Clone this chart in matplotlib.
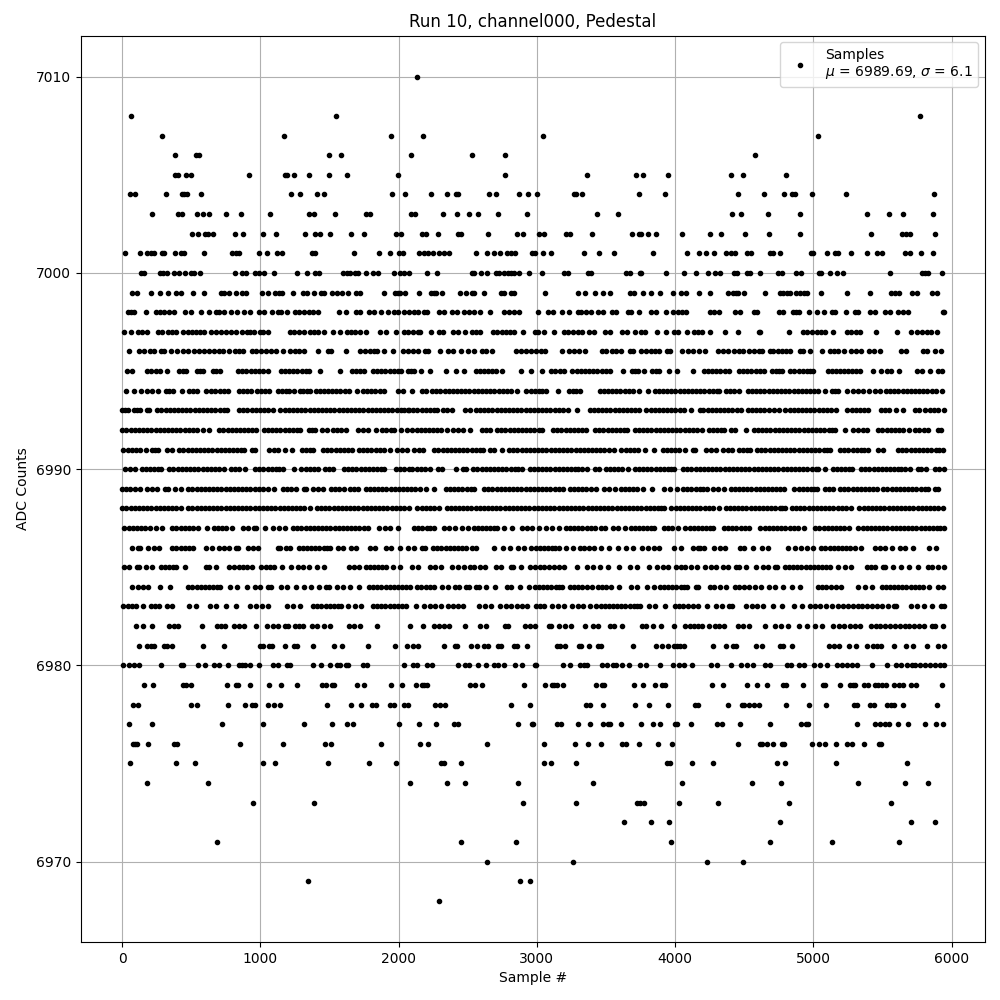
import matplotlib
matplotlib.use('Agg')
import matplotlib.pyplot as plt

# sample numbers, one list per ADC level
s7010 = [2132]
s7008 = [65, 1545, 5770]
s7007 = [289, 1170, 1942, 2176, 3043, 5036]
s7006 = [383, 532, 555, 1495, 1581, 2089, 2530, 2769, 4575]
s7005 = [380, 404, 460, 498, 917, 1180, 1195, 1242, 1350, 1495, 1625, 1993, 2769, 3361, 3716, 3766, 3947, 4402, 4489, 4806]
s7004 = [55, 94, 318, 431, 448, 469, 570, 1220, 1285, 1408, 1459, 1950, 2044, 2234, 2349, 2412, 2429, 2653, 2704, 2870, 2935, 3000, 3267, 3284, 3330, 3737, 3925, 4453, 4647, 4791, 4846, 4866, 4993, 5238, 5871]
s7003 = [217, 404, 433, 542, 587, 628, 751, 859, 1069, 1350, 1389, 1538, 1762, 1793, 2089, 2118, 2320, 2422, 2508, 2573, 2718, 2928, 3434, 3586, 4410, 4474, 4669, 4906, 5389, 5547, 5648, 5864]
s7002 = [505, 549, 599, 621, 657, 818, 874, 1018, 1112, 1321, 1394, 1430, 1502, 1656, 1747, 1983, 2015, 2169, 2197, 2284, 2429, 2451, 2646, 2860, 2899, 3014, 3053, 3210, 3239, 3398, 3687, 3737, 3757, 3803, 3860, 4048, 4251, 4330, 4503, 4683, 4906, 5418, 5641, 5670, 5701, 5878]
s7001 = [22, 130, 180, 209, 231, 289, 303, 383, 426, 448, 592, 794, 823, 845, 989, 1047, 1119, 1155, 1372, 1394, 1675, 1856, 1935, 2000, 2029, 2147, 2183, 2212, 2248, 2291, 2327, 2364, 2559, 2639, 2689, 2732, 2783, 2812, 2841, 2964, 2986, 3043, 3101, 3340, 3448, 3557, 3839, 4085, 4171, 4222, 4280, 4366, 4402, 4431, 4518, 4546, 4690, 4705, 4762, 4986, 5000, 5101, 5158, 5180, 5274, 5386, 5461, 5497, 5662, 5701, 5778, 5864]
s7000 = [140, 159, 274, 296, 325, 375, 409, 455, 498, 520, 563, 816, 866, 895, 960, 989, 1025, 1098, 1264, 1336, 1394, 1423, 1596, 1625, 1651, 1682, 1704, 1762, 1812, 1849, 1964, 2007, 2036, 2075, 2205, 2277, 2530, 2545, 2595, 2639, 2704, 2725, 2761, 2790, 2812, 2834, 2870, 2942, 3036, 3195, 3224, 3369, 3390, 3643, 3672, 3745, 3757, 3933, 4063, 4150, 4237, 4287, 4323, 4424, 4446, 4518, 4539, 4611, 4748, 4777, 4878, 4914, 5043, 5058, 5122, 5173, 5216, 5554, 5785, 5806, 5828, 5929]
s6999 = [72, 108, 209, 274, 332, 390, 426, 513, 592, 715, 737, 773, 823, 866, 895, 1011, 1054, 1105, 1134, 1155, 1235, 1307, 1338, 1386, 1437, 1459, 1516, 1552, 1589, 1632, 1690, 1719, 1892, 1971, 1993, 2007, 2044, 2147, 2234, 2255, 2270, 2313, 2443, 2487, 2530, 2545, 2617, 2740, 2761, 2812, 2834, 3058, 3296, 3347, 3419, 3477, 3528, 3672, 3701, 3766, 3824, 3889, 3983, 4041, 4077, 4171, 4251, 4381, 4417, 4438, 4453, 4496, 4654, 4762, 4784, 4813, 4834, 4878, 4906, 4935, 4957, 5058, 5245, 5410, 5562, 5590, 5619, 5713, 5749, 5857, 5893]
s6998 = [43, 65, 87, 173, 246, 274, 303, 339, 375, 455, 496, 570, 628, 679, 700, 737, 787, 830, 881, 924, 989, 1025, 1083, 1126, 1148, 1191, 1249, 1278, 1314, 1350, 1379, 1415, 1567, 1617, 1690, 1719, 1784, 1820, 1870, 1921, 1964, 1993, 2036, 2075, 2111, 2140, 2183, 2205, 2291, 2327, 2385, 2422, 2472, 2508, 2545, 2588, 2660, 2761, 2798, 2834, 2870, 3007, 3080, 3116, 3181, 3231, 3296, 3318, 3354, 3390, 3441, 3477, 3542, 3571, 3658, 3680, 3737, 3824, 3860, 3933, 3983, 4019, 4048, 4077, 4251, 4280, 4316, 4431, 4467, 4568, 4590, 4755, 4784, 4856, 4878, 4899, 4971, 5029, 5079, 5137, 5158, 5238, 5302, 5324, 5410, 5446, 5518, 5554, 5612, 5648, 5684, 5935, 5945]
s6997 = [14, 65, 115, 144, 180, 260, 289, 332, 361, 390, 440, 477, 505, 534, 563, 592, 643, 679, 715, 751, 787, 823, 866, 903, 924, 953, 996, 1021, 1054, 1213, 1242, 1278, 1314, 1358, 1386, 1415, 1459, 1524, 1574, 1625, 1654, 1682, 1719, 1762, 1863, 1906, 1979, 2036, 2065, 2103, 2140, 2154, 2234, 2291, 2320, 2393, 2429, 2479, 2530, 2559, 2588, 2682, 2711, 2747, 2776, 2805, 2834, 2899, 2986, 3007, 3051, 3123, 3195, 3224, 3260, 3296, 3325, 3376, 3412, 3492, 3528, 3615, 3651, 3709, 3752, 3781, 3868, 3933, 3990, 4019, 4085, 4135, 4164, 4194, 4251, 4359, 4453, 4604, 4618, 4827, 4928, 4957, 4993, 5029, 5058, 5086, 5144, 5245, 5274, 5310, 5338, 5453, 5605, 5706, 5749, 5785, 5821, 5850, 5893]
s6996 = [51, 123, 159, 202, 231, 282, 303, 354, 397, 440, 477, 520, 556, 592, 628, 664, 700, 729, 773, 816, 845, 874, 939, 968, 1004, 1040, 1076, 1112, 1163, 1213, 1249, 1278, 1314, 1415, 1488, 1509, 1622, 1719, 1755, 1793, 1820, 1841, 1892, 1957, 2029, 2065, 2103, 2140, 2190, 2212, 2299, 2357, 2393, 2451, 2501, 2545, 2603, 2631, 2675, 2848, 2884, 2920, 2957, 2993, 3029, 3058, 3181, 3231, 3267, 3304, 3347, 3470, 3499, 3542, 3571, 3607, 3672, 3694, 3752, 3788, 3824, 3853, 3882, 3940, 3962, 4051, 4092, 4128, 4171, 4215, 4309, 4345, 4383, 4424, 4460, 4489, 4532, 4568, 4604, 4626, 4690, 4712, 4748, 4777, 4806, 4834, 4906, 4928, 4978, 5065, 5122, 5151, 5180, 5223, 5274, 5310, 5346, 5403, 5439, 5482, 5634, 5670, 5792, 5821, 5878, 5921]
s6995 = [34, 72, 183, 212, 242, 272, 325, 414, 440, 465, 539, 562, 585, 660, 683, 705, 840, 870, 900, 930, 960, 990, 1020, 1054, 1148, 1178, 1208, 1238, 1268, 1298, 1328, 1355, 1430, 1579, 1663, 1693, 1723, 1752, 1815, 1845, 1875, 1905, 1935, 1965, 1995, 2017, 2070, 2090, 2111, 2164, 2229, 2342, 2414, 2472, 2557, 2587, 2617, 2647, 2677, 2707, 2747, 2884, 2957, 3036, 3106, 3135, 3165, 3200, 3258, 3288, 3318, 3348, 3378, 3408, 3438, 3468, 3498, 3533, 3624, 3692, 3711, 3730, 3776, 3836, 3862, 3887, 3957, 4012, 4128, 4206, 4236, 4266, 4296, 4326, 4360, 4393, 4462, 4492, 4522, 4552, 4582, 4612, 4647, 4702, 4727, 4752, 4777, 4834, 4864, 4894, 4924, 4954, 4977, 5000, 5103, 5133, 5163, 5193, 5223, 5253, 5283, 5310, 5336, 5430, 5487, 5535, 5564, 5619, 5751, 5785, 5845, 5900, 5931]
s6994 = [26, 87, 140, 183, 220, 260, 318, 343, 368, 433, 486, 514, 542, 607, 640, 673, 706, 735, 765, 847, 875, 905, 934, 977, 1005, 1033, 1061, 1129, 1160, 1185, 1211, 1242, 1285, 1310, 1335, 1360, 1401, 1430, 1460, 1490, 1520, 1550, 1580, 1610, 1644, 1697, 1743, 1773, 1803, 1833, 1865, 1897, 1995, 2034, 2099, 2171, 2200, 2243, 2273, 2303, 2333, 2363, 2393, 2423, 2453, 2483, 2513, 2543, 2573, 2603, 2633, 2663, 2693, 2723, 2753, 2783, 2813, 2855, 2925, 2955, 2985, 3015, 3040, 3067, 3154, 3234, 3260, 3287, 3313, 3455, 3485, 3515, 3545, 3575, 3605, 3635, 3665, 3695, 3737, 3803, 3853, 3883, 3913, 3943, 3973, 4003, 4033, 4063, 4093, 4123, 4153, 4183, 4213, 4243, 4273, 4303, 4316, 4371, 4400, 4430, 4460, 4527, 4557, 4587, 4617, 4647, 4677, 4707, 4737, 4767, 4797, 4827, 4857, 4887, 4917, 4947, 4977, 5007, 5036, 5086, 5134, 5157, 5180, 5247, 5290, 5325, 5360, 5406, 5443, 5480, 5526, 5556, 5586, 5616, 5646, 5676, 5706, 5736, 5766, 5796, 5826, 5856, 5886, 5931]
s6993 = [0, 20, 43, 87, 110, 132, 178, 195, 255, 285, 315, 345, 375, 405, 435, 465, 495, 525, 555, 585, 615, 645, 675, 705, 735, 758, 847, 877, 907, 937, 967, 997, 1027, 1057, 1090, 1146, 1176, 1206, 1236, 1266, 1296, 1326, 1356, 1386, 1416, 1446, 1476, 1506, 1536, 1566, 1596, 1626, 1656, 1686, 1716, 1746, 1776, 1806, 1836, 1866, 1896, 1926, 1956, 1986, 2016, 2040, 2065, 2076, 2106, 2136, 2166, 2196, 2226, 2256, 2279, 2323, 2354, 2385, 2484, 2520, 2559, 2589, 2619, 2649, 2679, 2709, 2739, 2769, 2799, 2829, 2859, 2889, 2919, 2949, 2979, 3009, 3039, 3069, 3099, 3129, 3159, 3189, 3229, 3289, 3383, 3413, 3443, 3473, 3503, 3533, 3563, 3593, 3623, 3653, 3683, 3713, 3742, 3793, 3823, 3853, 3883, 3913, 3943, 3973, 4003, 4033, 4068, 4113, 4178, 4205, 4235, 4265, 4295, 4325, 4355, 4385, 4415, 4445, 4477, 4527, 4557, 4587, 4617, 4647, 4676, 4719, 4755, 4798, 4828, 4858, 4888, 4918, 4948, 4978, 5008, 5038, 5068, 5096, 5125, 5163, 5247, 5277, 5307, 5337, 5367, 5396, 5492, 5520, 5545, 5598, 5646, 5737, 5768, 5811, 5841, 5871, 5901, 5943]
s6992 = [2, 32, 62, 92, 122, 152, 182, 212, 242, 272, 302, 332, 362, 392, 422, 452, 482, 512, 542, 585, 628, 703, 733, 763, 793, 823, 853, 883, 913, 943, 970, 1025, 1055, 1085, 1115, 1145, 1175, 1205, 1235, 1265, 1285, 1353, 1375, 1396, 1449, 1480, 1526, 1556, 1586, 1617, 1707, 1741, 1776, 1834, 1882, 1912, 1942, 1969, 2015, 2063, 2100, 2130, 2160, 2190, 2220, 2250, 2280, 2310, 2352, 2395, 2430, 2465, 2516, 2600, 2632, 2663, 2713, 2743, 2773, 2803, 2833, 2863, 2893, 2923, 2953, 2983, 3013, 3036, 3118, 3148, 3178, 3208, 3238, 3268, 3298, 3328, 3357, 3422, 3452, 3482, 3512, 3542, 3572, 3602, 3628, 3653, 3709, 3739, 3769, 3799, 3829, 3859, 3889, 3919, 3949, 3979, 4009, 4039, 4069, 4099, 4129, 4159, 4196, 4246, 4275, 4300, 4330, 4357, 4402, 4431, 4515, 4570, 4600, 4630, 4660, 4690, 4720, 4750, 4780, 4810, 4840, 4870, 4900, 4930, 4960, 4990, 5020, 5050, 5080, 5110, 5135, 5156, 5226, 5290, 5323, 5356, 5389, 5470, 5500, 5530, 5560, 5590, 5620, 5650, 5689, 5734, 5767, 5800, 5833, 5902, 5924]
s6991 = [10, 40, 70, 100, 130, 171, 219, 240, 260, 323, 361, 414, 444, 474, 504, 534, 564, 594, 624, 654, 684, 714, 744, 774, 804, 834, 858, 881, 943, 958, 1064, 1098, 1131, 1182, 1228, 1302, 1330, 1357, 1384, 1454, 1484, 1514, 1544, 1574, 1604, 1634, 1661, 1714, 1744, 1774, 1804, 1834, 1864, 1894, 1935, 1991, 2025, 2058, 2111, 2145, 2176, 2258, 2288, 2318, 2348, 2378, 2408, 2438, 2468, 2498, 2528, 2558, 2588, 2610, 2665, 2694, 2749, 2800, 2830, 2860, 2890, 2920, 2950, 2980, 3010, 3040, 3070, 3100, 3130, 3160, 3190, 3220, 3250, 3280, 3310, 3340, 3370, 3400, 3430, 3460, 3484, 3521, 3557, 3612, 3642, 3672, 3702, 3730, 3781, 3851, 3913, 3943, 3973, 4003, 4031, 4075, 4130, 4147, 4222, 4260, 4297, 4350, 4380, 4412, 4462, 4490, 4517, 4544, 4594, 4624, 4654, 4684, 4714, 4744, 4774, 4804, 4834, 4864, 4894, 4924, 4954, 4984, 5014, 5044, 5074, 5098, 5120, 5194, 5224, 5254, 5284, 5314, 5344, 5370, 5396, 5470, 5504, 5614, 5644, 5674, 5704, 5734, 5764, 5794, 5824, 5854, 5884, 5910, 5936]
s6990 = [24, 57, 91, 142, 172, 202, 232, 262, 284, 342, 372, 402, 432, 462, 492, 522, 552, 582, 612, 642, 672, 702, 734, 785, 815, 845, 886, 963, 993, 1023, 1053, 1083, 1113, 1138, 1163, 1242, 1297, 1327, 1357, 1387, 1420, 1466, 1497, 1528, 1605, 1635, 1665, 1695, 1725, 1755, 1785, 1815, 1845, 1870, 1897, 1983, 2013, 2043, 2073, 2100, 2130, 2160, 2190, 2224, 2287, 2316, 2412, 2465, 2489, 2540, 2570, 2600, 2630, 2660, 2690, 2720, 2750, 2780, 2810, 2840, 2866, 2892, 2949, 2979, 3009, 3039, 3069, 3099, 3129, 3159, 3189, 3219, 3249, 3279, 3300, 3325, 3366, 3419, 3453, 3499, 3529, 3559, 3589, 3619, 3658, 3709, 3739, 3769, 3799, 3829, 3859, 3889, 3919, 3949, 3970, 3991, 4058, 4088, 4118, 4148, 4178, 4208, 4238, 4268, 4298, 4328, 4358, 4388, 4418, 4448, 4478, 4508, 4538, 4568, 4598, 4628, 4658, 4688, 4718, 4748, 4778, 4808, 4838, 4868, 4898, 4928, 4958, 4988, 5018, 5036, 5086, 5142, 5172, 5202, 5232, 5256, 5281, 5346, 5376, 5406, 5436, 5466, 5496, 5526, 5556, 5586, 5616, 5638, 5660, 5703, 5754, 5780, 5818, 5878, 5910, 5945]
s6989 = [2, 30, 60, 90, 132, 178, 215, 253, 310, 332, 383, 428, 479, 509, 539, 569, 599, 629, 659, 689, 719, 749, 779, 809, 839, 869, 899, 929, 959, 989, 1019, 1054, 1098, 1165, 1195, 1225, 1259, 1314, 1331, 1382, 1417, 1451, 1514, 1540, 1570, 1603, 1651, 1680, 1709, 1762, 1792, 1822, 1852, 1882, 1912, 1942, 1972, 2002, 2032, 2062, 2092, 2122, 2152, 2202, 2260, 2342, 2372, 2402, 2432, 2462, 2492, 2522, 2549, 2619, 2649, 2679, 2709, 2739, 2769, 2799, 2829, 2859, 2889, 2919, 2949, 2979, 3009, 3039, 3069, 3099, 3129, 3159, 3188, 3239, 3269, 3299, 3329, 3359, 3389, 3429, 3487, 3525, 3566, 3612, 3640, 3668, 3697, 3725, 3769, 3831, 3918, 3962, 4012, 4058, 4088, 4118, 4148, 4178, 4205, 4232, 4275, 4314, 4352, 4402, 4432, 4462, 4492, 4522, 4552, 4582, 4612, 4642, 4672, 4702, 4732, 4762, 4791, 4863, 4893, 4923, 4953, 4983, 5006, 5029, 5082, 5113, 5144, 5194, 5224, 5254, 5284, 5314, 5344, 5374, 5404, 5434, 5461, 5506, 5536, 5566, 5596, 5626, 5656, 5686, 5716, 5746, 5776, 5806, 5828, 5878, 5900]
s6988 = [2, 32, 62, 92, 122, 152, 182, 212, 242, 272, 302, 332, 362, 392, 428, 479, 509, 539, 569, 599, 629, 659, 689, 719, 749, 779, 809, 839, 869, 899, 929, 959, 989, 1019, 1049, 1079, 1109, 1139, 1169, 1199, 1229, 1259, 1289, 1319, 1358, 1410, 1440, 1470, 1500, 1530, 1560, 1590, 1620, 1650, 1680, 1710, 1740, 1770, 1800, 1830, 1860, 1890, 1920, 1950, 1980, 2010, 2040, 2075, 2137, 2167, 2197, 2227, 2257, 2289, 2347, 2377, 2407, 2437, 2467, 2497, 2527, 2557, 2587, 2617, 2647, 2677, 2707, 2737, 2767, 2797, 2827, 2857, 2887, 2917, 2947, 2977, 3007, 3037, 3067, 3097, 3127, 3157, 3187, 3217, 3247, 3277, 3307, 3337, 3367, 3397, 3427, 3457, 3487, 3517, 3547, 3577, 3607, 3637, 3667, 3697, 3727, 3757, 3787, 3817, 3847, 3877, 3900, 3923, 3974, 4004, 4034, 4064, 4094, 4124, 4154, 4184, 4214, 4244, 4274, 4316, 4366, 4396, 4426, 4456, 4486, 4516, 4546, 4576, 4606, 4636, 4666, 4696, 4726, 4756, 4775, 4796, 4846, 4876, 4906, 4936, 4966, 4996, 5026, 5056, 5086, 5116, 5146, 5176, 5206, 5236, 5271, 5334, 5364, 5394, 5424, 5454, 5484, 5514, 5544, 5574, 5604, 5634, 5664, 5694, 5724, 5754, 5784, 5814, 5844, 5874, 5904, 5936]
s6987 = [17, 47, 77, 107, 137, 167, 200, 245, 289, 363, 393, 423, 453, 483, 513, 549, 611, 664, 694, 724, 754, 794, 876, 910, 955, 970, 1033, 1093, 1133, 1175, 1237, 1267, 1297, 1327, 1357, 1387, 1417, 1447, 1477, 1507, 1537, 1567, 1597, 1627, 1657, 1687, 1717, 1747, 1776, 1858, 1900, 1940, 1993, 2113, 2143, 2173, 2203, 2229, 2255, 2330, 2368, 2405, 2458, 2501, 2545, 2575, 2605, 2635, 2665, 2690, 2713, 2764, 2819, 2894, 2930, 2965, 3014, 3065, 3110, 3157, 3210, 3240, 3270, 3300, 3330, 3360, 3390, 3420, 3465, 3492, 3549, 3586, 3636, 3680, 3710, 3740, 3770, 3800, 3825, 3851, 3921, 3950, 3976, 4019, 4075, 4105, 4135, 4165, 4195, 4225, 4250, 4275, 4354, 4384, 4414, 4444, 4474, 4504, 4537, 4618, 4648, 4678, 4708, 4738, 4768, 4798, 4828, 4858, 4892, 4935, 5014, 5044, 5074, 5104, 5134, 5164, 5194, 5224, 5259, 5326, 5356, 5386, 5416, 5446, 5476, 5506, 5536, 5566, 5596, 5626, 5656, 5686, 5716, 5746, 5776, 5806, 5836, 5866, 5896, 5920, 5943]
s6986 = [72, 118, 132, 190, 228, 267, 363, 393, 423, 453, 483, 513, 607, 650, 700, 737, 770, 821, 838, 912, 947, 982, 1129, 1143, 1187, 1218, 1278, 1308, 1338, 1368, 1398, 1428, 1458, 1482, 1507, 1562, 1596, 1658, 1692, 1796, 1832, 1911, 1945, 2007, 2065, 2113, 2173, 2193, 2250, 2280, 2310, 2340, 2370, 2400, 2430, 2460, 2489, 2532, 2561, 2689, 2757, 2807, 2865, 2906, 2961, 2991, 3021, 3051, 3081, 3111, 3135, 3159, 3214, 3260, 3311, 3345, 3380, 3412, 3467, 3523, 3586, 3648, 3694, 3764, 3805, 3846, 3884, 3995, 4046, 4130, 4164, 4180, 4213, 4282, 4323, 4364, 4470, 4496, 4563, 4626, 4674, 4815, 4866, 4912, 4957, 5000, 5058, 5088, 5118, 5148, 5178, 5208, 5238, 5268, 5300, 5343, 5446, 5484, 5521, 5569, 5626, 5665, 5722, 5838, 5888]
s6985 = [17, 51, 111, 123, 171, 217, 282, 312, 342, 365, 392, 455, 607, 628, 679, 775, 810, 845, 875, 905, 939, 1004, 1040, 1070, 1102, 1158, 1223, 1273, 1310, 1350, 1410, 1459, 1639, 1675, 1711, 1762, 1792, 1822, 1852, 1882, 1912, 1957, 2007, 2099, 2144, 2226, 2267, 2308, 2388, 2430, 2472, 2516, 2545, 2590, 2622, 2704, 2743, 2810, 2826, 2884, 2949, 2985, 3020, 3055, 3090, 3125, 3160, 3200, 3289, 3364, 3410, 3458, 3516, 3598, 3672, 3725, 3810, 3870, 3910, 3952, 4005, 4040, 4075, 4116, 4157, 4218, 4258, 4297, 4347, 4381, 4443, 4460, 4513, 4582, 4638, 4669, 4722, 4741, 4794, 4824, 4854, 4884, 4914, 4944, 4974, 5004, 5034, 5064, 5094, 5120, 5182, 5227, 5271, 5391, 5420, 5449, 5502, 5521, 5574, 5634, 5694, 5758, 5830, 5860, 5900, 5945]
s6984 = [72, 118, 150, 188, 274, 347, 479, 509, 539, 569, 599, 629, 659, 689, 710, 782, 830, 903, 965, 1001, 1057, 1078, 1151, 1194, 1259, 1314, 1367, 1423, 1478, 1500, 1555, 1596, 1651, 1711, 1786, 1816, 1846, 1876, 1906, 1936, 1966, 1996, 2026, 2056, 2082, 2135, 2165, 2197, 2230, 2260, 2311, 2358, 2405, 2438, 2487, 2513, 2557, 2581, 2636, 2701, 2786, 2814, 2877, 2940, 2986, 3016, 3046, 3076, 3106, 3136, 3160, 3181, 3239, 3270, 3300, 3330, 3360, 3398, 3443, 3470, 3500, 3537, 3595, 3684, 3723, 3800, 3846, 3889, 3920, 3950, 3980, 4010, 4040, 4065, 4087, 4150, 4164, 4251, 4282, 4325, 4369, 4431, 4465, 4500, 4535, 4575, 4621, 4678, 4724, 4779, 4844, 4904, 5031, 5060, 5095, 5130, 5165, 5204, 5326, 5375, 5425, 5494, 5524, 5554, 5584, 5614, 5644, 5674, 5704, 5734, 5764, 5797, 5835, 5900, 5941]
s6983 = [10, 40, 75, 104, 152, 207, 237, 267, 327, 361, 486, 537, 633, 681, 751, 823, 927, 970, 1011, 1059, 1194, 1240, 1288, 1382, 1412, 1442, 1472, 1502, 1532, 1560, 1584, 1632, 1687, 1728, 1815, 1845, 1875, 1905, 1935, 1965, 1995, 2025, 2055, 2125, 2183, 2225, 2265, 2308, 2359, 2395, 2430, 2465, 2583, 2626, 2670, 2732, 2775, 2815, 2855, 2896, 2930, 2993, 3025, 3055, 3111, 3155, 3200, 3255, 3295, 3333, 3383, 3431, 3461, 3491, 3521, 3551, 3581, 3611, 3641, 3671, 3701, 3725, 3750, 3812, 3856, 3925, 3998, 4030, 4060, 4095, 4130, 4164, 4234, 4294, 4340, 4390, 4412, 4515, 4555, 4595, 4633, 4710, 4772, 4858, 4916, 4974, 5010, 5050, 5090, 5132, 5182, 5215, 5250, 5285, 5320, 5355, 5390, 5425, 5460, 5497, 5542, 5583, 5600, 5706, 5750, 5799, 5859, 5922, 5943]
s6982 = [104, 152, 217, 342, 375, 404, 575, 684, 715, 741, 809, 845, 881, 972, 1049, 1090, 1126, 1177, 1199, 1254, 1280, 1307, 1374, 1408, 1459, 1502, 1642, 1680, 1721, 1841, 2082, 2176, 2255, 2290, 2328, 2364, 2479, 2588, 2634, 2769, 2790, 2913, 2950, 2990, 3087, 3104, 3159, 3205, 3248, 3347, 3407, 3441, 3533, 3557, 3617, 3762, 3790, 3841, 3899, 3990, 4070, 4105, 4140, 4165, 4195, 4244, 4287, 4316, 4352, 4455, 4495, 4532, 4654, 4726, 4767, 4820, 4899, 4954, 5010, 5065, 5146, 5185, 5225, 5265, 5305, 5341, 5418, 5450, 5485, 5520, 5555, 5590, 5625, 5660, 5695, 5730, 5765, 5804, 5859, 5881, 5936]
s6981 = [123, 180, 207, 231, 303, 322, 361, 585, 737, 996, 1016, 1066, 1085, 1177, 1242, 1266, 1379, 1531, 1589, 1776, 1971, 2058, 2103, 2140, 2328, 2407, 2424, 2523, 2566, 2617, 2646, 2718, 2742, 2834, 2858, 2930, 3147, 3166, 3202, 3304, 3323, 3374, 3441, 3465, 3694, 3860, 3906, 3947, 3990, 4014, 4039, 4068, 4275, 4366, 4419, 4443, 4582, 4632, 4760, 4782, 4849, 5115, 5151, 5185, 5259, 5312, 5391, 5430, 5458, 5492, 5586, 5670, 5720, 5823, 5900, 5945]
s6980 = [7, 51, 87, 123, 282, 424, 440, 549, 599, 664, 700, 765, 845, 869, 890, 924, 994, 1090, 1126, 1194, 1213, 1379, 1437, 1502, 1552, 1579, 1617, 1632, 1740, 1769, 2036, 2103, 2131, 2205, 2241, 2429, 2484, 2513, 2573, 2631, 2689, 2718, 2761, 2841, 2892, 2986, 2995, 3188, 3239, 3316, 3342, 3364, 3470, 3506, 3550, 3576, 3615, 3665, 3745, 3793, 3889, 3983, 4027, 4065, 4121, 4262, 4306, 4407, 4474, 4520, 4566, 4654, 4690, 4810, 4839, 4899, 4935, 5002, 5046, 5101, 5170, 5211, 5247, 5283, 5314, 5425, 5535, 5595, 5636, 5679, 5715, 5739, 5775, 5811, 5847, 5883, 5914, 5948]
s6979 = [159, 224, 440, 462, 498, 758, 823, 840, 924, 1061, 1148, 1264, 1444, 1473, 1516, 1531, 1697, 1747, 1942, 2022, 2125, 2169, 2183, 2205, 2516, 2552, 2602, 2906, 3058, 3113, 3128, 3145, 3188, 3427, 3470, 3484, 3701, 3766, 3858, 3904, 3930, 4266, 4345, 4518, 4590, 4662, 4784, 4803, 4928, 5072, 5082, 5194, 5266, 5288, 5302, 5367, 5396, 5446, 5468, 5499, 5526, 5583, 5619, 5650, 5706, 5746, 5929]
s6978 = [79, 116, 498, 542, 765, 888, 939, 960, 1054, 1098, 1141, 1483, 1654, 1726, 1805, 1834, 1935, 1964, 2036, 2065, 2263, 2299, 2335, 2812, 2949, 3354, 3383, 3477, 3709, 3810, 3947, 4142, 4164, 4381, 4482, 4496, 4532, 4568, 4604, 4806, 4971, 5094, 5295, 5319, 5410, 5439, 5535, 5559, 5583, 5648, 5893]
s6977 = [51, 217, 722, 1018, 1314, 1516, 1625, 1668, 2000, 2147, 2270, 2400, 2429, 2863, 2964, 2973, 3145, 3174, 3296, 3383, 3477, 3513, 3528, 3607, 3752, 3839, 3889, 3998, 4012, 4113, 4302, 4340, 4467, 4690, 4914, 4950, 4964, 5317, 5446, 5482, 5518, 5547, 5612, 5684, 5806, 5886, 5936]
s6976 = [79, 94, 108, 188, 375, 397, 852, 1163, 1466, 1509, 1870, 2154, 2212, 2639, 3051, 3275, 3369, 3463, 3615, 3643, 3737, 3875, 3976, 4453, 4611, 4632, 4662, 4712, 4777, 4791, 4993, 5043, 5084, 5166, 5245, 5281, 5367, 5475, 5487]
s6975 = [58, 390, 527, 1018, 1105, 1488, 1784, 1979, 2306, 2328, 2451, 3051, 3101, 3282, 3940, 3962, 4121, 4274, 4741, 4798, 5166, 5677]
s6974 = [180, 621, 2083, 2349, 2479, 2863, 3405, 4048, 4554, 4770, 5324, 5662, 5828]
s6973 = [946, 1386, 2899, 3282, 3723, 3745, 3774, 4027, 4309, 4827, 5562]
s6972 = [3629, 3824, 3954, 4762, 5706, 5878]
s6971 = [686, 2451, 2848, 3969, 4690, 5137, 5619]
s6970 = [2639, 3260, 4230, 4489]
s6969 = [1343, 2877, 2949]
s6968 = [2291]

adc_levels = [7010, 7008, 7007, 7006, 7005, 7004, 7003, 7002, 7001, 7000, 6999, 6998, 6997, 6996,
              6995, 6994, 6993, 6992, 6991, 6990, 6989, 6988, 6987, 6986, 6985, 6984, 6983, 6982,
              6981, 6980, 6979, 6978, 6977, 6976, 6975, 6974, 6973, 6972, 6971, 6970, 6969, 6968]
level_samples = [s7010, s7008, s7007, s7006, s7005, s7004, s7003, s7002, s7001, s7000, s6999, s6998, s6997, s6996,
                 s6995, s6994, s6993, s6992, s6991, s6990, s6989, s6988, s6987, s6986, s6985, s6984, s6983, s6982,
                 s6981, s6980, s6979, s6978, s6977, s6976, s6975, s6974, s6973, s6972, s6971, s6970, s6969, s6968]

x = []
y = []
for level, samples in zip(adc_levels, level_samples):
    for s in samples:
        x.append(s)
        y.append(level)

plt.figure(figsize=(10, 10))
plt.plot(x, y, '.', color='black', label="Samples\n$\\mu$ = 6989.69, $\\sigma$ = 6.1")
plt.title('Run 10, channel000, Pedestal')
plt.xlabel('Sample #')
plt.ylabel('ADC Counts')
plt.xlim(-297, 6242)
plt.ylim(6965.9, 7012.1)
plt.grid(True)
plt.legend(loc='upper right')
plt.subplots_adjust(left=0.081, right=0.985, top=0.9645, bottom=0.058)
plt.savefig('out.png', dpi=100)
